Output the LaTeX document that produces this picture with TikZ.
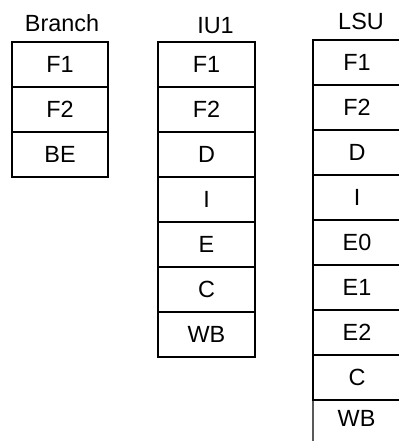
\documentclass[tikz,border=0pt]{standalone}
\usepackage{fontspec}
\setmainfont{Liberation Sans}
\begin{document}
\begin{tikzpicture}[x=1bp,y=-1bp,line width=1.1bp,
  txt/.style={inner sep=0pt,outer sep=0pt,font=\fontsize{23.5}{28}\selectfont},
  cell/.style={txt,draw,rectangle,minimum height=45bp},
  bcell/.style={cell,minimum width=96bp},
  icell/.style={cell,minimum width=97bp},
  lcell/.style={cell,minimum width=88bp},
  head/.style={txt,anchor=base}]
\useasboundingbox (0,0) rectangle (398,441);
% Branch
\node[head] (bh) at (62,31.7) {Branch};
\node[bcell] (b1) at (60,64.5) {F1};
\node[bcell] (b2) at (60,109.5) {F2};
\node[bcell] (b3) at (60,154.5) {BE};
% IU1
\node[head] (ih) at (215.5,33.3) {IU1};
\node[icell] (i1) at (206.5,64.5) {F1};
\node[icell] (i2) at (206.5,109.5) {F2};
\node[icell] (i3) at (206.5,154.5) {D};
\node[icell] (i4) at (206.5,199.5) {I};
\node[icell] (i5) at (206.5,244.5) {E};
\node[icell] (i6) at (206.5,289.5) {C};
\node[icell] (i7) at (206.5,334.5) {WB};
% LSU
\node[head] (lh) at (361,29.3) {LSU};
\node[lcell] (l1) at (357,62.5) {F1};
\node[lcell] (l2) at (357,107.5) {F2};
\node[lcell] (l3) at (357,152.5) {D};
\node[lcell] (l4) at (357,197.5) {I};
\node[lcell] (l5) at (357,242.5) {E0};
\node[lcell] (l6) at (357,287.5) {E1};
\node[lcell] (l7) at (357,332.5) {E2};
\node[lcell] (l8) at (357,377.5) {C};
\node[txt] (l9) at (356.5,418) {WB};
\coordinate (lb) at (313,446);
\draw (l8.south west) -- (lb);
\end{tikzpicture}
\end{document}
